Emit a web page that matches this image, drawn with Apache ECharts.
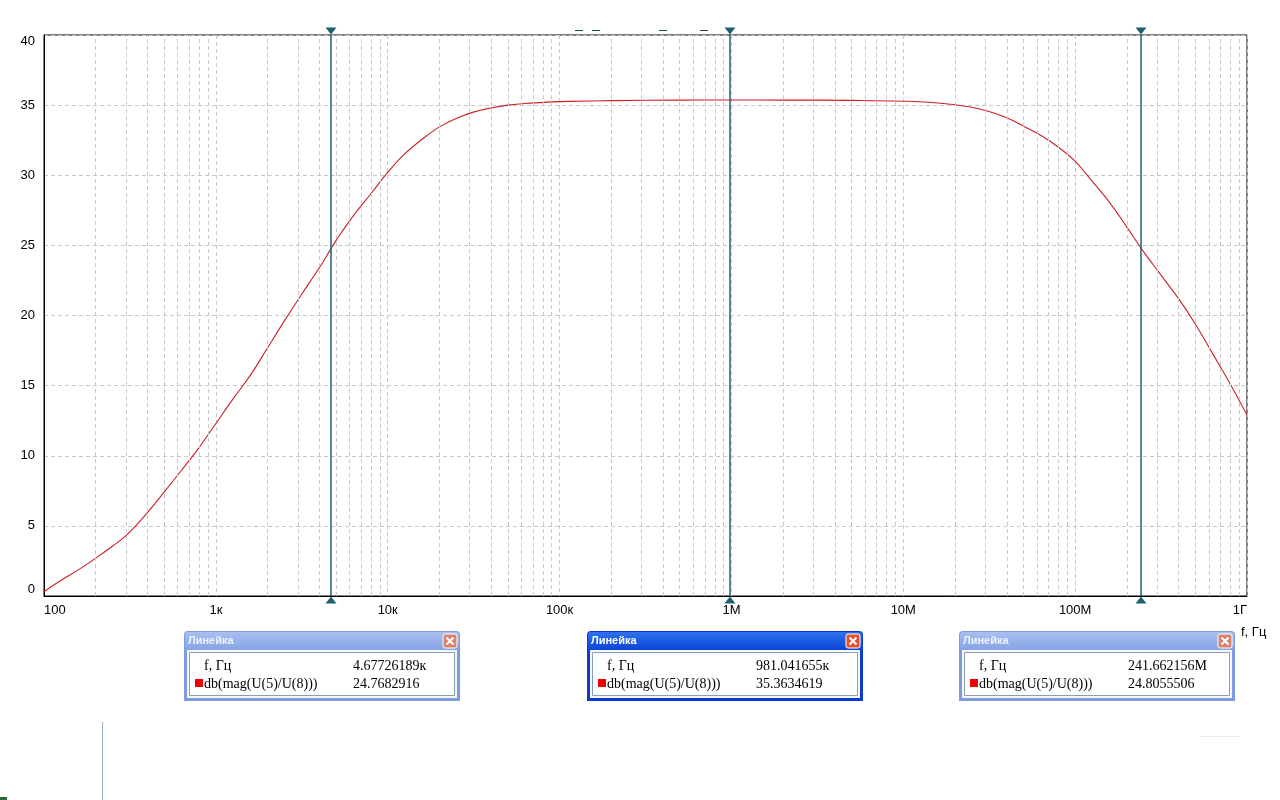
<!DOCTYPE html>
<html>
<head>
<meta charset="utf-8">
<script src="https://cdn.jsdelivr.net/npm/echarts@6/dist/echarts.min.js"></script>
<style>
html,body{margin:0;padding:0;background:#fff;}
#chart{width:1280px;height:800px;}
</style>
</head>
<body>
<div id="chart"></div>
<script>
// ---- data ----
const freqHz = [100, 125, 160, 200, 250, 300, 400, 500, 630, 800, 1000, 1250, 1600, 2000, 2500, 3150, 4000, 4677.26189,
  5000, 6300, 8000, 10000, 12500, 16000, 20000, 25000, 31500, 40000, 50000, 63000, 100000, 200000, 500000, 981041.655,
  2e6, 5e6, 1e7, 1.6e7, 2.5e7, 3.15e7, 4e7, 5e7, 6.3e7, 8e7, 1e8, 1.25e8, 1.6e8, 2e8, 241662156, 3.15e8, 4e8, 5e8,
  6.3e8, 8e8, 1e9];
const gainDb = [0.3, 1.1, 1.9, 2.7, 3.55, 4.3, 5.95, 7.4, 8.95, 10.6, 12.3, 14.0, 15.8, 17.7, 19.6, 21.5, 23.4, 24.7682916,
  25.34, 27.1, 28.7, 30.2, 31.5, 32.6, 33.45, 34.05, 34.5, 34.8, 35.0, 35.12, 35.25, 35.32, 35.355, 35.3634619,
  35.36, 35.34, 35.28, 35.15, 34.85, 34.55, 34.1, 33.5, 32.85, 32.0, 31.0, 29.6, 28.0, 26.3, 24.8055506, 22.9, 21.2, 19.4,
  17.3, 15.1, 12.9];
const cursorFreqHz = [4677.26189, 981041.655, 241662156];
const cursorGainDb = [24.7682916, 35.3634619, 24.8055506];
const xTickValues = [100, 1e3, 1e4, 1e5, 1e6, 1e7, 1e8, 1e9];
const xTickLabels = ['100', '1к', '10к', '100к', '1M', '10M', '100M', '1Г'];
const yTickLabels = ['0', '5', '10', '15', '20', '25', '30', '35', '40'];
const seriesName = 'db(mag(U(5)/U(8)))';
const freqLabel = 'f, Гц';
const windowTitle = 'Линейка';

// minor log grid positions (2..9 x 10^k)
const minorGridFreqs = [];
for (let k = 2; k < 9; k++) for (let d = 2; d <= 9; d++) minorGridFreqs.push(d * Math.pow(10, k));

const curveData = freqHz.map((f, i) => [f, gainDb[i]]);

function fmtFreq(f) {
  if (f >= 1e6) return (f / 1e6).toPrecision(9) + 'M';
  if (f >= 1e3) return (f / 1e3).toPrecision(9) + 'к';
  return f.toPrecision(9);
}

const cursorColor = '#1d6272';
const gridDash = { color: '#c8c8c8', type: [4, 3], width: 1 };

const markPts = [];
cursorFreqHz.forEach(f => {
  markPts.push({ coord: [f, 40], symbol: 'triangle', symbolRotate: 180, symbolSize: [11, 7], symbolOffset: [0, -4] });
  markPts.push({ coord: [f, 0], symbol: 'triangle', symbolSize: [11, 7], symbolOffset: [0, 4] });
});

function rulerWindow(left, top, active, fText, vText) {
  const w = 276, h = 70;
  const frame = active ? '#0a3ad2' : '#7e9be2';
  const g1 = active ? '#2f72ee' : '#a9c0ef';
  const g2 = active ? '#0a45d6' : '#86a3e6';
  const textFont = '14px "Liberation Serif", serif';
  return {
    type: 'group', x: left, y: top, silent: true,
    children: [
      { type: 'rect', shape: { x: 0, y: 0, width: w, height: h, r: [4, 4, 0, 0] }, style: { fill: frame } },
      { type: 'rect', shape: { x: 1, y: 1, width: w - 2, height: 18, r: [3, 3, 0, 0] },
        style: { fill: new echarts.graphic.LinearGradient(0, 0, 0, 1, [{ offset: 0, color: g1 }, { offset: 1, color: g2 }]) } },
      { type: 'text', style: { x: 4, y: 10, text: windowTitle, fill: active ? '#ffffff' : '#eef3ff', font: 'bold 11px "Liberation Sans", sans-serif', verticalAlign: 'middle' } },
      { type: 'rect', shape: { x: w - 17, y: 3, width: 14, height: 14, r: 2 }, style: { fill: active ? '#e2522c' : '#d9836f', stroke: '#ffffff', lineWidth: 1 } },
      { type: 'line', shape: { x1: w - 13.5, y1: 6.5, x2: w - 6.5, y2: 13.5 }, style: { stroke: '#ffffff', lineWidth: 2 } },
      { type: 'line', shape: { x1: w - 6.5, y1: 6.5, x2: w - 13.5, y2: 13.5 }, style: { stroke: '#ffffff', lineWidth: 2 } },
      { type: 'rect', shape: { x: 3, y: 19, width: w - 6, height: h - 22 }, style: { fill: '#f7f7f4' } },
      { type: 'rect', shape: { x: 5.5, y: 21.5, width: w - 11, height: h - 27 }, style: { fill: '#ffffff', stroke: '#8d9cb6', lineWidth: 1 } },
      { type: 'text', style: { x: 20, y: 35, text: freqLabel, fill: '#000', font: textFont, verticalAlign: 'middle' } },
      { type: 'text', style: { x: 169, y: 35, text: fText, fill: '#000', font: textFont, verticalAlign: 'middle' } },
      { type: 'rect', shape: { x: 11, y: 48, width: 8, height: 8 }, style: { fill: '#ee0000' } },
      { type: 'text', style: { x: 20, y: 53, text: seriesName, fill: '#000', font: textFont, verticalAlign: 'middle' } },
      { type: 'text', style: { x: 169, y: 53, text: vText, fill: '#000', font: textFont, verticalAlign: 'middle' } }
    ]
  };
}

const windowLefts = [184, 587, 959];
const windows = cursorFreqHz.map((f, i) =>
  rulerWindow(windowLefts[i], 631, i === 1, fmtFreq(f), cursorGainDb[i].toPrecision(9)));

const chart = echarts.init(document.getElementById('chart'), null, { renderer: 'canvas' });
chart.setOption({
  animation: false,
  backgroundColor: '#ffffff',
  grid: { left: 44, right: 33, top: 35, bottom: 204, show: true, borderColor: '#000', borderWidth: 1, backgroundColor: 'transparent' },
  xAxis: {
    type: 'log', logBase: 10, min: 100, max: 1e9,
    axisLine: { show: true, lineStyle: { color: '#000', width: 1 } },
    axisTick: { show: false },
    splitLine: { show: true, lineStyle: gridDash },
    axisLabel: {
      color: '#000', fontFamily: '"Liberation Sans", sans-serif', fontSize: 13, margin: 8,
      alignMinLabel: 'left', alignMaxLabel: 'right',
      formatter: v => { const i = xTickValues.indexOf(v); return i >= 0 ? xTickLabels[i] : ''; }
    }
  },
  yAxis: {
    type: 'value', min: 0, max: 40, interval: 5,
    axisLine: { show: true, lineStyle: { color: '#000', width: 1 } },
    axisTick: { show: false },
    splitLine: { show: true, lineStyle: gridDash },
    axisLabel: {
      color: '#000', fontFamily: '"Liberation Sans", sans-serif', fontSize: 13, margin: 9,
      verticalAlignMinLabel: 'bottom', verticalAlignMaxLabel: 'top',
      formatter: v => yTickLabels[Math.round(v / 5)]
    }
  },
  series: [
    {
      type: 'line', name: 'minorGrid', data: [], z: 1, silent: true,
      markLine: {
        silent: true, symbol: 'none', label: { show: false },
        lineStyle: gridDash,
        data: minorGridFreqs.map(f => ({ xAxis: f }))
      }
    },
    {
      type: 'line', name: seriesName, data: curveData, smooth: 0.4, showSymbol: false, z: 3,
      lineStyle: { color: '#cc1f26', width: 1.1 },
      markLine: {
        silent: true, symbol: 'none', label: { show: false },
        lineStyle: { color: cursorColor, type: 'solid', width: 1.5 },
        data: cursorFreqHz.map(f => ({ xAxis: f }))
      },
      markPoint: {
        silent: true, label: { show: false },
        itemStyle: { color: cursorColor },
        data: markPts
      }
    }
  ],
  graphic: [
    ...windows,
    { type: 'text', silent: true, style: { x: 1241, y: 632, text: freqLabel, fill: '#000', font: '13px "Liberation Sans", sans-serif', verticalAlign: 'middle' } },
    { type: 'line', silent: true, shape: { x1: 575, y1: 30.5, x2: 583, y2: 30.5 }, style: { stroke: '#1e4c5a', lineWidth: 1 } },
    { type: 'line', silent: true, shape: { x1: 592, y1: 30.5, x2: 600, y2: 30.5 }, style: { stroke: '#1e4c5a', lineWidth: 1 } },
    { type: 'line', silent: true, shape: { x1: 659, y1: 30.5, x2: 667, y2: 30.5 }, style: { stroke: '#1e4c5a', lineWidth: 1 } },
    { type: 'line', silent: true, shape: { x1: 700, y1: 30.5, x2: 708, y2: 30.5 }, style: { stroke: '#1e4c5a', lineWidth: 1 } },
    { type: 'line', silent: true, shape: { x1: 102.5, y1: 722, x2: 102.5, y2: 800 }, style: { stroke: '#9fb2c2', lineWidth: 1 } },
    { type: 'line', silent: true, shape: { x1: 1200, y1: 736.5, x2: 1240, y2: 736.5 }, style: { stroke: '#ececec', lineWidth: 1 } },
    { type: 'rect', silent: true, shape: { x: 0, y: 797, width: 7, height: 3 }, style: { fill: '#2c6a3c' } }
  ]
});
</script>
</body>
</html>
